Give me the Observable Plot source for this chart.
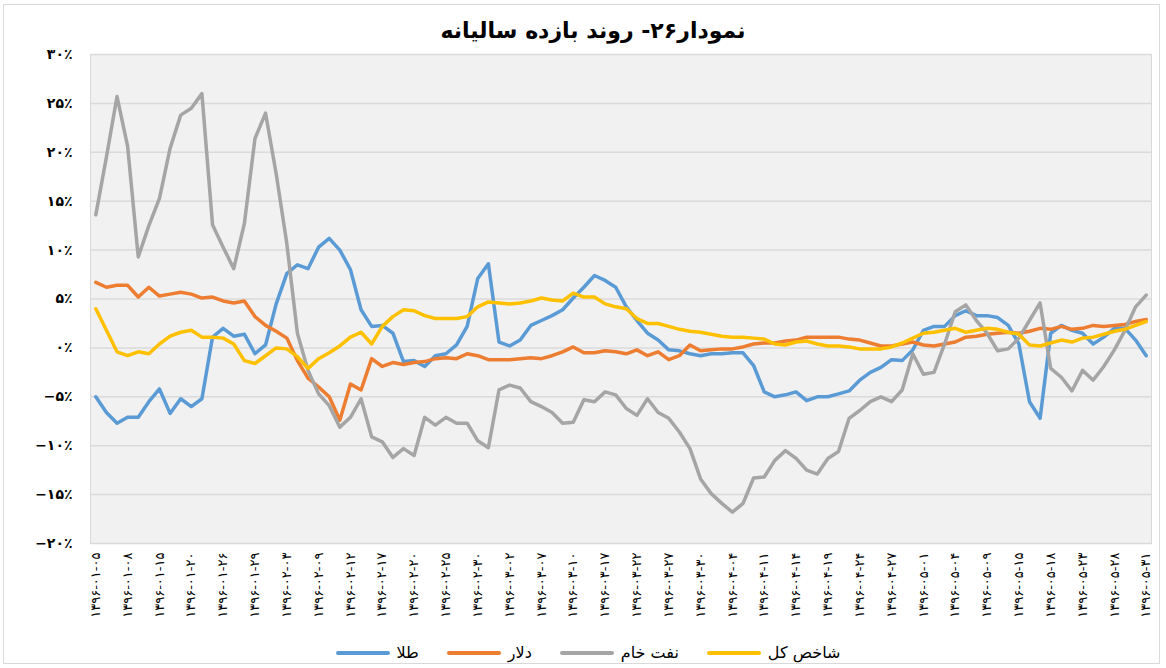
<!DOCTYPE html>
<html>
<head>
<meta charset="utf-8">
<script src="https://cdn.jsdelivr.net/npm/d3@7"></script>
<script src="https://cdn.jsdelivr.net/npm/@observablehq/plot@0.6"></script>
<style>
  html, body { margin: 0; padding: 0; background: #fff; }
  #chart { position: relative; width: 1166px; height: 668px; font-family: "DejaVu Sans", sans-serif; color: #000; }
  #frame { position: absolute; left: 3px; top: 4px; width: 1157px; height: 660px; border: 1px solid #d9d9d9; box-sizing: border-box; }
  #plot { position: absolute; left: 0; top: 0; }
  #title { position: absolute; left: 10px; width: 1166px; top: 16px; text-align: center; font-size: 22px; font-weight: bold; line-height: 30px; }
  #legend { position: absolute; left: 0; width: 1176px; top: 642px; display: flex; justify-content: center; align-items: center; gap: 28px; font-size: 16px; line-height: 22px; }
  .item { display: flex; align-items: center; gap: 7px; }
  .swatch { width: 54px; height: 4px; border-radius: 2px; }
</style>
</head>
<body>
<div id="chart">
  <div id="frame"></div>
  <div id="plot"></div>
  <div id="title" dir="rtl">نمودار۲۶- روند بازده سالیانه</div>
  <div id="legend"></div>
</div>
<script>
// Tick labels (every third observation)
const tickLabels = [
  "1396-01-05","1396-01-08","1396-01-15","1396-01-20","1396-01-26","1396-01-29",
  "1396-02-03","1396-02-09","1396-02-12","1396-02-17","1396-02-20","1396-02-25",
  "1396-02-30","1396-03-02","1396-03-07","1396-03-10","1396-03-17","1396-03-22",
  "1396-03-27","1396-03-30","1396-04-04","1396-04-11","1396-04-14","1396-04-19",
  "1396-04-24","1396-04-27","1396-05-01","1396-05-04","1396-05-09","1396-05-15",
  "1396-05-18","1396-05-23","1396-05-28","1396-05-31"
];
const yTicks = [-20, -15, -10, -5, 0, 5, 10, 15, 20, 25, 30];

const seriesNames = ["طلا", "دلار", "نفت خام", "شاخص کل"];
const seriesColors = ["#5B9BD5", "#ED7D31", "#A5A5A5", "#FFC000"];

// طلا (gold)
const gold = [
  -5.0,-6.6,-7.7,-7.1,-7.1,-5.5,-4.2,-6.7,-5.2,-6.0,
  -5.2,1.1,2.0,1.2,1.4,-0.6,0.3,4.5,7.6,8.5,
  8.1,10.3,11.2,10.0,8.0,3.9,2.2,2.3,1.5,-1.4,
  -1.3,-1.9,-0.8,-0.6,
  0.3,2.2,7.1,8.6,0.6,0.2,0.8,2.3,2.8,3.3,
  3.9,5.1,6.2,7.4,6.9,6.2,4.2,2.8,1.5,0.8,
  -0.2,-0.3,-0.6,-0.8,-0.6,-0.6,-0.5,-0.5,-1.8,-4.5,
  -5.0,-4.8,-4.5,
  -5.4,-5.0,-5.0,-4.7,-4.4,-3.3,-2.5,-2.0,-1.2,-1.3,
  -0.2,1.8,2.2,2.2,3.3,3.8,3.3,3.3,3.1,2.3,
  0.4,-5.5,-7.2,1.5,2.3,1.8,1.5,0.4,1.1,2.0,
  2.0,0.8,-0.8
];
// دلار (dollar)
const dollar = [
  6.7,6.2,6.4,6.4,5.2,6.2,5.3,5.5,5.7,5.5,
  5.1,5.2,4.8,4.6,4.8,3.2,2.3,1.7,1.0,-1.3,
  -3.1,-4.0,-5.0,-7.4,-3.7,-4.3,-1.1,-1.9,-1.5,-1.7,
  -1.5,-1.4,-1.1,-1.0,
  -1.1,-0.6,-0.8,-1.2,-1.2,-1.2,-1.1,-1.0,-1.1,-0.8,
  -0.4,0.1,-0.5,-0.5,-0.3,-0.4,-0.6,-0.2,-0.8,-0.4,
  -1.2,-0.8,0.3,-0.3,-0.2,-0.1,-0.1,0.1,0.4,0.5,
  0.5,0.7,0.8,
  1.1,1.1,1.1,1.1,0.9,0.8,0.5,0.2,0.2,0.4,
  0.6,0.3,0.2,0.4,0.6,1.1,1.2,1.4,1.5,1.6,
  1.5,1.7,2.0,1.9,2.2,1.9,2.0,2.3,2.2,2.3,
  2.4,2.7,2.9
];
// نفت خام (crude oil)
const oil = [
  13.6,19.5,25.7,20.6,9.3,12.5,15.3,20.4,23.8,24.5,
  26.0,12.6,10.3,8.1,12.7,21.4,24.0,17.8,10.7,1.5,
  -2.3,-4.7,-5.9,-8.1,-7.1,-5.2,-9.1,-9.6,-11.2,-10.3,
  -11.0,-7.1,-7.9,-7.1,
  -7.7,-7.7,-9.5,-10.2,-4.3,-3.8,-4.1,-5.5,-6.0,-6.6,
  -7.7,-7.6,-5.3,-5.5,-4.5,-4.8,-6.2,-6.9,-5.2,-6.6,
  -7.2,-8.6,-10.3,-13.4,-14.9,-15.9,-16.8,-15.9,-13.3,-13.2,
  -11.5,-10.5,-11.3,
  -12.5,-12.9,-11.3,-10.6,-7.2,-6.4,-5.5,-5.0,-5.5,-4.3,
  -0.6,-2.7,-2.5,0.4,3.7,4.4,2.8,1.5,-0.3,-0.1,
  1.0,2.8,4.6,-2.1,-3.0,-4.4,-2.3,-3.3,-1.9,-0.2,
  1.8,4.2,5.4
];
// شاخص کل (stock index)
const stockIndex = [
  4.0,1.8,-0.4,-0.8,-0.4,-0.6,0.4,1.2,1.6,1.8,
  1.1,1.1,1.0,0.4,-1.3,-1.6,-0.8,0.0,-0.1,-0.9,
  -2.1,-1.1,-0.5,0.2,1.1,1.6,0.4,2.2,3.2,3.9,
  3.8,3.3,3.0,3.0,
  3.0,3.2,4.2,4.7,4.6,4.5,4.6,4.8,5.1,4.9,
  4.8,5.6,5.2,5.2,4.5,4.2,4.0,3.0,2.5,2.5,
  2.2,1.9,1.7,1.6,1.4,1.2,1.1,1.1,1.0,0.9,
  0.4,0.3,0.6,
  0.7,0.4,0.2,0.2,0.1,-0.1,-0.1,-0.1,0.1,0.5,
  1.0,1.5,1.6,1.8,2.0,1.6,1.8,2.0,1.9,1.6,
  1.4,0.3,0.2,0.5,0.8,0.6,1.0,1.1,1.4,1.7,
  1.9,2.3,2.7
];

const seriesValues = [gold, dollar, oil, stockIndex];

const faDigits = "۰۱۲۳۴۵۶۷۸۹";
const toFa = s => String(s).replace(/[0-9]/g, d => faDigits[+d]);
const fmtY = v => (v < 0 ? "\u2212" : "") + toFa(Math.abs(v)) + "٪";

const N = gold.length;
const rows = seriesNames.flatMap((name, k) => seriesValues[k].map((v, i) => ({i, v, name})));
const tickIdx = tickLabels.map((_, k) => k * 3);

const svg = Plot.plot({
  width: 1166,
  height: 640,
  marginLeft: 90,
  marginRight: 15,
  marginTop: 54,
  marginBottom: 97,
  style: {fontFamily: "DejaVu Sans, sans-serif", color: "#000", background: "transparent"},
  x: {domain: [-0.5, N - 0.5]},
  y: {domain: [-20, 30]},
  color: {domain: seriesNames, range: seriesColors},
  marks: [
    Plot.frame({fill: "url(#bgpat)", stroke: "#d9d9d9"}),
    Plot.ruleY(yTicks, {stroke: "#dadada", strokeWidth: 1.5}),
    Plot.line(rows, {x: "i", y: "v", z: "name", stroke: "name", strokeWidth: 3.5, strokeLinejoin: "round", strokeLinecap: "round"}),
    Plot.axisY({ticks: yTicks, tickSize: 0, tickPadding: 18, tickFormat: fmtY, label: null, fontSize: 14, fontWeight: "bold"}),
    Plot.axisX({ticks: tickIdx, tickSize: 0, tickPadding: 9, tickRotate: -90, tickFormat: i => toFa(tickLabels[i / 3]), label: null, fontSize: 13})
  ]
});

const defs = document.createElementNS("http://www.w3.org/2000/svg", "defs");
defs.innerHTML = '<pattern id="bgpat" width="2" height="2" patternUnits="userSpaceOnUse">' +
  '<rect width="2" height="2" fill="#ffffff"/>' +
  '<rect x="0" y="0" width="1" height="1" fill="#e2e2e2"/>' +
  '<rect x="1" y="1" width="1" height="1" fill="#e2e2e2"/>' +
  '</pattern>';
svg.insertBefore(defs, svg.firstChild);
document.getElementById("plot").appendChild(svg);

const legend = document.getElementById("legend");
seriesNames.forEach((name, k) => {
  const item = document.createElement("div");
  item.className = "item";
  const sw = document.createElement("div");
  sw.className = "swatch";
  sw.style.background = seriesColors[k];
  const t = document.createElement("span");
  t.textContent = name;
  t.dir = "rtl";
  item.appendChild(sw);
  item.appendChild(t);
  legend.appendChild(item);
});
</script>
</body>
</html>
